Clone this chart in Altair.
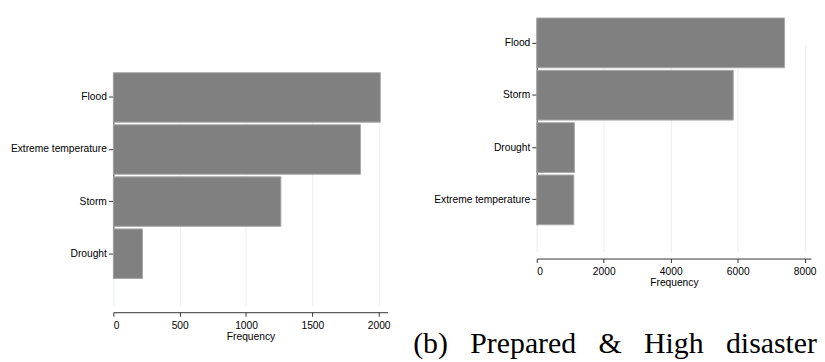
import altair as alt
import pandas as pd

# Panel (a) – left
left_cats = ["Flood", "Extreme temperature", "Storm", "Drought"]
left_vals = [2013, 1863, 1263, 220]
left_ticks = [0, 500, 1000, 1500, 2000]

# Panel (b) – right
right_cats = ["Flood", "Storm", "Drought", "Extreme temperature"]
right_vals = [7400, 5867, 1126, 1108]
right_ticks = [0, 2000, 4000, 6000, 8000]

caption = "(b)\u00a0\u00a0\u00a0Prepared\u00a0\u00a0\u00a0&\u00a0\u00a0\u00a0High\u00a0\u00a0\u00a0disaster"

FONT = "Liberation Sans"
BAR = "#808080"
EDGE = "#a8a8a8"
GRID = "#e8f0f2"


def axis_y(extent):
    return alt.Axis(title=None, labelFont=FONT, labelFontSize=10.3, labelColor="#000",
                    tickSize=5, labelPadding=2, domainColor="#333", tickColor="#333",
                    grid=False, minExtent=extent, maxExtent=extent, labelLimit=200)


def axis_x(ticks):
    return alt.Axis(title="Frequency", values=ticks, format="d", labelFont=FONT,
                    labelFontSize=10.3, labelColor="#000", titleFont=FONT,
                    titleFontSize=10.3, titleFontWeight="normal", titleColor="#000",
                    titlePadding=1, tickSize=4, labelPadding=4, domainColor="#333",
                    tickColor="#333", grid=True, gridColor=GRID, gridWidth=1)


left_df = pd.DataFrame({"cat": left_cats, "val": left_vals})
right_df = pd.DataFrame({"cat": right_cats, "val": right_vals})

left = alt.Chart(left_df).mark_bar(color=BAR, stroke=EDGE, strokeWidth=1).encode(
    y=alt.Y("cat:N", sort=left_cats,
            scale=alt.Scale(range=[7, 214], paddingInner=0.05, paddingOuter=0),
            axis=axis_y(102)),
    x=alt.X("val:Q", scale=alt.Scale(domain=[0, 2068], nice=False),
            axis=axis_x(left_ticks)),
).properties(width=276, height=248)

spacer = alt.Chart(pd.DataFrame({"v": [0]})).mark_point(opacity=0).properties(
    width=276, height=55)

right = alt.Chart(right_df).mark_bar(color=BAR, stroke=EDGE, strokeWidth=1).encode(
    y=alt.Y("cat:N", sort=right_cats,
            scale=alt.Scale(range=[7, 215], paddingInner=0.05, paddingOuter=0),
            axis=axis_y(105)),
    x=alt.X("val:Q", scale=alt.Scale(domain=[0, 8190], nice=False),
            axis=axis_x(right_ticks)),
).properties(
    width=276, height=249,
    title=alt.TitleParams(caption, orient="bottom", anchor="end", frame="group",
                          font="Liberation Serif", fontSize=30, fontWeight="normal",
                          color="#000", dx=6, offset=41),
)

chart = alt.hconcat(
    alt.vconcat(spacer, left, spacing=0),
    right,
    spacing=22,
).properties(
    padding={"left": 2, "top": 2, "right": 0, "bottom": 0},
).configure(background="white").configure_view(stroke="transparent", strokeWidth=0)

chart.save("out.html", embed_options={"renderer": "svg", "actions": False})
